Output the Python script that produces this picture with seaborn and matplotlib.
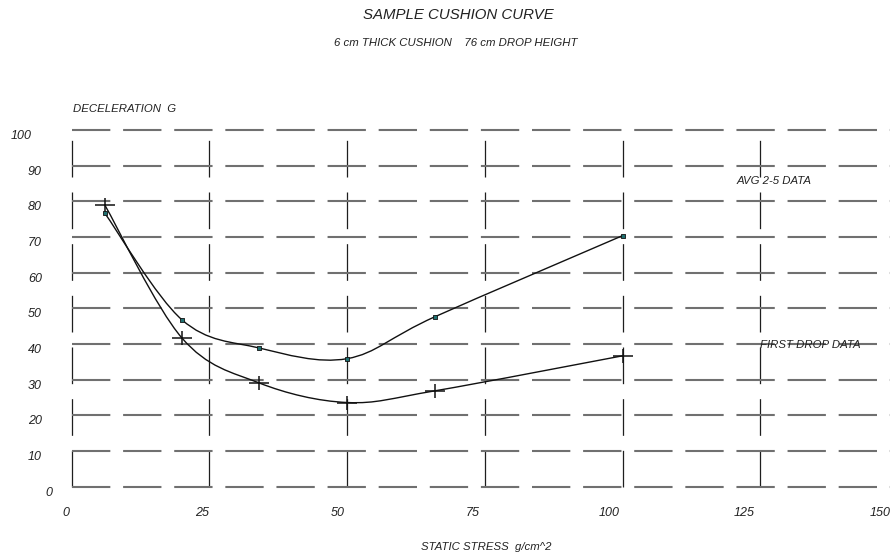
import numpy as np
import pandas as pd
import matplotlib
matplotlib.use("Agg")
import matplotlib.pyplot as plt
import matplotlib.transforms as mtrans
from matplotlib.path import Path
from matplotlib.patches import PathPatch
import seaborn as sns

# ---------------- data ----------------
stress = [6, 20, 34, 50, 66, 100]                      # g/cm^2
avg_g = [76.7, 46.8, 38.9, 35.9, 47.7, 70.4]            # AVG 2-5 DATA
first_g = [79.0, 41.7, 29.1, 23.6, 26.9, 36.7]          # FIRST DROP DATA
x_ticks = [0, 25, 50, 75, 100, 125, 150]
y_ticks = [0, 10, 20, 30, 40, 50, 60, 70, 80, 90, 100]
title = "SAMPLE CUSHION CURVE"
subtitle = "6 cm THICK CUSHION    76 cm DROP HEIGHT"
y_label = "DECELERATION  G"
x_label = "STATIC STRESS  g/cm^2"
avg_label = "AVG 2-5 DATA"
first_label = "FIRST DROP DATA"

# ---------------- style ----------------
sns.set_theme(style="white")
plt.rcParams["font.family"] = ["Liberation Sans", "DejaVu Sans"]
plt.rcParams["font.style"] = "italic"
plt.rcParams["lines.scale_dashes"] = False

W, H = 890, 555
fig = plt.figure(figsize=(W / 100, H / 100), dpi=100)
fig.patch.set_facecolor("white")

TXT = "#222222"
SMALL = 8.2
TICK = 9.0

# plot area in pixels
x0_px, y0_px = 71.7, 486.7          # origin
px_per_x, px_per_y = 5.51, 3.567
ax = fig.add_axes([x0_px / W, (H - y0_px) / H,
                   px_per_x * 150 / W, px_per_y * 100 / H])
ax.set_xlim(0, 150)
ax.set_ylim(0, 100)
for s in ax.spines.values():
    s.set_visible(False)
ax.set_facecolor("none")

ax.set_xticks(x_ticks)
ax.set_yticks(y_ticks)
ax.grid(axis="y", color="#707070", lw=1.5, linestyle=(0, (27.6, 9.2)))
ax.grid(axis="x", color="#1e1e1e", lw=0.9, linestyle=(0, (26.4, 10.8)))
ax.set_axisbelow(True)
for gl in ax.get_ygridlines() + ax.get_xgridlines():
    gl.set_clip_on(False)

ax.tick_params(axis="x", length=0, labelbottom=False)
ax.tick_params(axis="y", direction="in", length=11.5, width=1.6,
               color="#2a2a2a", pad=21.4, labelsize=TICK, labelcolor=TXT)
ax.set_yticklabels([str(v) for v in y_ticks])
for tick, val in zip(ax.yaxis.get_major_ticks(), y_ticks):
    dx = 0
    if val == 100:
        dx = -10
    elif val == 0:
        dx = 10
    tick.label1.set_transform(tick.label1.get_transform() +
                              mtrans.Affine2D().translate(dx, -4.5))

# x tick labels sit on their own slightly different scale (as in the reference)
lab_left, lab_ppx = 66.0, 5.427
axl = fig.add_axes([lab_left / W, (H - y0_px) / H, lab_ppx * 150 / W, px_per_y * 100 / H])
axl.set_xlim(0, 150)
axl.set_ylim(0, 100)
axl.set_facecolor("none")
for s in axl.spines.values():
    s.set_visible(False)
axl.set_xticks(x_ticks)
axl.set_xticklabels([str(v) for v in x_ticks])
axl.set_yticks([])
axl.tick_params(axis="x", length=0, pad=14.6, labelsize=TICK, labelcolor=TXT)


# ---------------- smoothed curves ----------------
def smooth_path(xs, ys):
    P = np.column_stack([xs, ys]).astype(float)
    n = len(P)
    verts = [P[0]]
    codes = [Path.MOVETO]
    for i in range(n - 1):
        pm = P[i - 1] if i > 0 else P[i]
        pp = P[i + 2] if i + 2 < n else P[i + 1]
        c1 = P[i] + (P[i + 1] - pm) / 6.0
        c2 = P[i + 1] - (pp - P[i]) / 6.0
        verts += [c1, c2, P[i + 1]]
        codes += [Path.CURVE4] * 3
    return Path(verts, codes)


for ys in (avg_g, first_g):
    ax.add_patch(PathPatch(smooth_path(stress, ys), facecolor="none",
                           edgecolor="#111111", lw=1.0, zorder=3))

df = pd.DataFrame({"stress": stress, "avg": avg_g, "first": first_g})

cross = Path([(-1, 0), (1, 0), (0, -0.7), (0, 0.7)],
             [Path.MOVETO, Path.LINETO, Path.MOVETO, Path.LINETO])
sns.scatterplot(data=df, x="stress", y="first", marker=cross, s=200,
                color="#111111", edgecolor="#111111", linewidth=1.1, ax=ax, zorder=4)
sns.scatterplot(data=df, x="stress", y="avg", marker="s", s=9,
                color="#1f7070", edgecolor="#111111", linewidth=0.6, ax=ax, zorder=5)
ax.set_xlabel("")
ax.set_ylabel("")

ax.text(120.7, 85.6, avg_label, fontsize=SMALL, ha="left", va="center",
        color=TXT, zorder=6)
ax.text(124.9, 39.8, first_label, fontsize=SMALL, ha="left", va="center",
        color=TXT, zorder=6)

# ---------------- titles / labels ----------------
fig.text(458 / W, 1 - 15 / H, title, fontsize=10.8, ha="center", va="center", color=TXT)
fig.text(456 / W, 1 - 43 / H, subtitle, fontsize=SMALL, ha="center", va="center", color=TXT)
fig.text(72.7 / W, 1 - 109 / H, y_label, fontsize=SMALL, ha="left", va="center", color=TXT)
fig.text(486.5 / W, 1 - 546.7 / H, x_label, fontsize=SMALL, ha="center", va="center", color=TXT)

fig.savefig("out.png", dpi=100)
